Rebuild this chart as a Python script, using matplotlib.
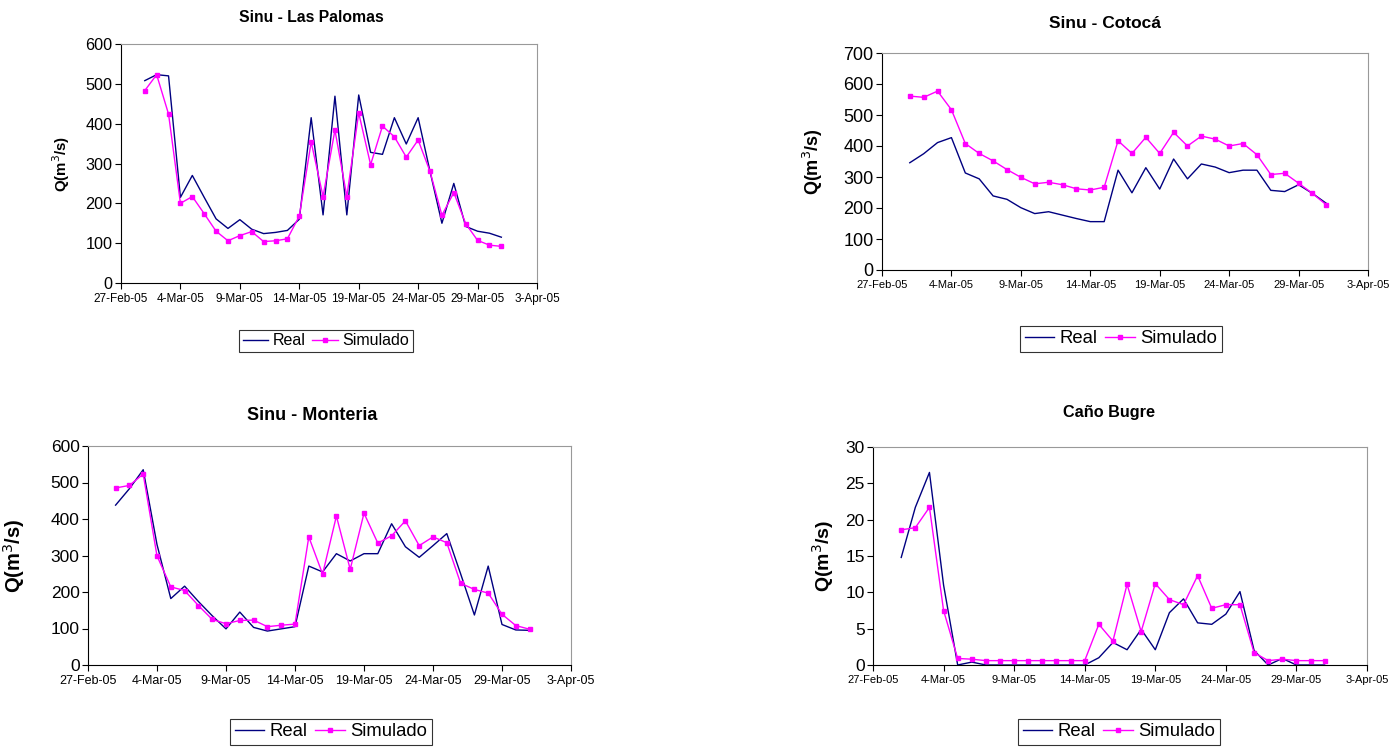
import datetime as dt
import matplotlib
matplotlib.use("Agg")
import matplotlib.pyplot as plt
import matplotlib.dates as mdates
from matplotlib.ticker import FuncFormatter

plt.rcParams['font.family'] = ['Liberation Sans', 'DejaVu Sans']

# daily data, 1-Mar-05 .. 31-Mar-05
dates = [dt.date(2005, 3, d) for d in range(1, 32)]

palomas_real = [508, 523, 520, 215, 270, 215, 161, 137, 159, 135, 124, 127, 132, 160, 415, 171,
                469, 171, 472, 328, 323, 415, 349, 415, 280, 150, 250, 142, 130, 125, 115]
palomas_sim = [483, 523, 424, 200, 217, 174, 130, 106, 119, 129, 104, 106, 111, 168, 354, 217,
               384, 217, 427, 297, 394, 367, 316, 359, 280, 170, 227, 149, 107, 95, 92]

cotoca_real = [346, 375, 411, 427, 313, 294, 239, 228, 201, 182, 188, 177, 166, 156, 156, 322,
               249, 330, 261, 358, 294, 342, 332, 314, 322, 322, 257, 253, 275, 247, 215]
cotoca_sim = [561, 557, 577, 517, 408, 376, 352, 324, 299, 278, 283, 275, 262, 258, 267, 417,
              376, 428, 376, 444, 400, 432, 422, 400, 408, 372, 308, 312, 280, 247, 210]

monteria_real = [438, 483, 535, 330, 182, 216, 174, 135, 99, 145, 103, 93, 99, 105, 271, 255,
                 305, 285, 305, 305, 387, 324, 295, 327, 360, 250, 137, 271, 111, 96, 95]
monteria_sim = [485, 492, 523, 299, 214, 204, 163, 125, 113, 122, 123, 105, 109, 112, 351, 249,
                408, 262, 416, 334, 354, 395, 327, 351, 335, 224, 207, 197, 139, 108, 98]

bugre_real = [14.8, 21.7, 26.5, 11.0, 0.0, 0.4, 0.0, 0.0, 0.0, 0.0, 0.0, 0.0, 0.0, 0.0, 1.0, 3.1,
              2.1, 4.9, 2.1, 7.2, 9.1, 5.8, 5.6, 7.0, 10.1, 2.0, 0.0, 0.9, 0.0, 0.0, 0.0]
bugre_sim = [18.6, 18.9, 21.7, 7.5, 0.9, 0.8, 0.6, 0.6, 0.6, 0.6, 0.6, 0.6, 0.6, 0.6, 5.6, 3.3,
             11.1, 4.6, 11.2, 9.0, 8.3, 12.3, 7.8, 8.3, 8.3, 1.7, 0.6, 0.8, 0.6, 0.6, 0.6]

W, H = 1399, 748
fig = plt.figure(figsize=(W / 100, H / 100), dpi=100)


def px_axes(l, t, r, b):
    return fig.add_axes([l / W, 1 - b / H, (r - l) / W, (b - t) / H])


def date_fmt(x, pos):
    d = mdates.num2date(x)
    return f"{d.day}-{d.strftime('%b-%y')}"


panels = [
    # title, real, sim, ymax, ystep, box (l, t, r, b), title pos, legend center, ylabel x,
    # font sizes: title, yticks, xticks, ylabel, legend
    ("Sinu - Las Palomas", palomas_real, palomas_sim, 600, 100, (121, 44, 537, 283), (311, 17), (326, 341), -0.118,
     (11.3, 11.7, 8.5, 10.8, 11.5)),
    ("Sinu - Cotocá", cotoca_real, cotoca_sim, 700, 100, (882, 53, 1368, 270), (1105, 24), (1121, 339), -0.117,
     (12.5, 13, 8, 13, 13.3)),
    ("Sinu - Monteria", monteria_real, monteria_sim, 600, 100, (88, 446, 571, 665), (312, 415), (331, 732), -0.126,
     (13, 12.5, 9, 14.5, 13.3)),
    ("Caño Bugre", bugre_real, bugre_sim, 30, 5, (873, 447, 1367, 665), (1109, 412), (1119, 732), -0.075,
     (11.7, 12.5, 8, 14, 13.3)),
]

for title, real, sim, ymax, ystep, box, tpos, lpos, ylx, fs in panels:
    f_title, f_yt, f_xt, f_yl, f_leg = fs
    ax = px_axes(*box)
    ax.plot(dates, real, color='#000080', lw=1.0, label='Real')
    ax.plot(dates, sim, color='#FF00FF', lw=1.0, marker='s', ms=3.5, label='Simulado')
    ax.set_xlim(mdates.date2num(dt.date(2005, 2, 27)), mdates.date2num(dt.date(2005, 4, 3)))
    ax.set_ylim(0, ymax)
    ax.set_yticks(range(0, ymax + 1, ystep))
    ax.set_xticks([mdates.date2num(dt.date(2005, 2, 27) + dt.timedelta(days=5 * i)) for i in range(8)])
    ax.xaxis.set_major_formatter(FuncFormatter(date_fmt))
    ax.tick_params(axis='x', labelsize=f_xt, direction='out', length=4, width=0.8)
    ax.tick_params(axis='y', labelsize=f_yt, direction='out', length=4, width=0.8, pad=2)
    for s in ('top', 'right'):
        ax.spines[s].set_color('#999999')
    for s in ('left', 'bottom'):
        ax.spines[s].set_color('black')
    ax.set_ylabel('Q(m$^3$/s)', fontsize=f_yl, fontweight='bold')
    ax.yaxis.set_label_coords(ylx, 0.5)
    fig.text(tpos[0] / W, 1 - tpos[1] / H, title, ha='center', va='center', fontsize=f_title, fontweight='bold')
    leg = ax.legend(loc='center', bbox_to_anchor=(lpos[0] / W, 1 - lpos[1] / H), bbox_transform=fig.transFigure,
                    ncol=2, fontsize=f_leg, frameon=True, fancybox=False, handlelength=1.6, handletextpad=0.3,
                    columnspacing=0.4, borderpad=0.25, borderaxespad=0, numpoints=1)
    leg.get_frame().set_edgecolor('black')
    leg.get_frame().set_linewidth(0.8)

fig.savefig('out.png', dpi=100)
